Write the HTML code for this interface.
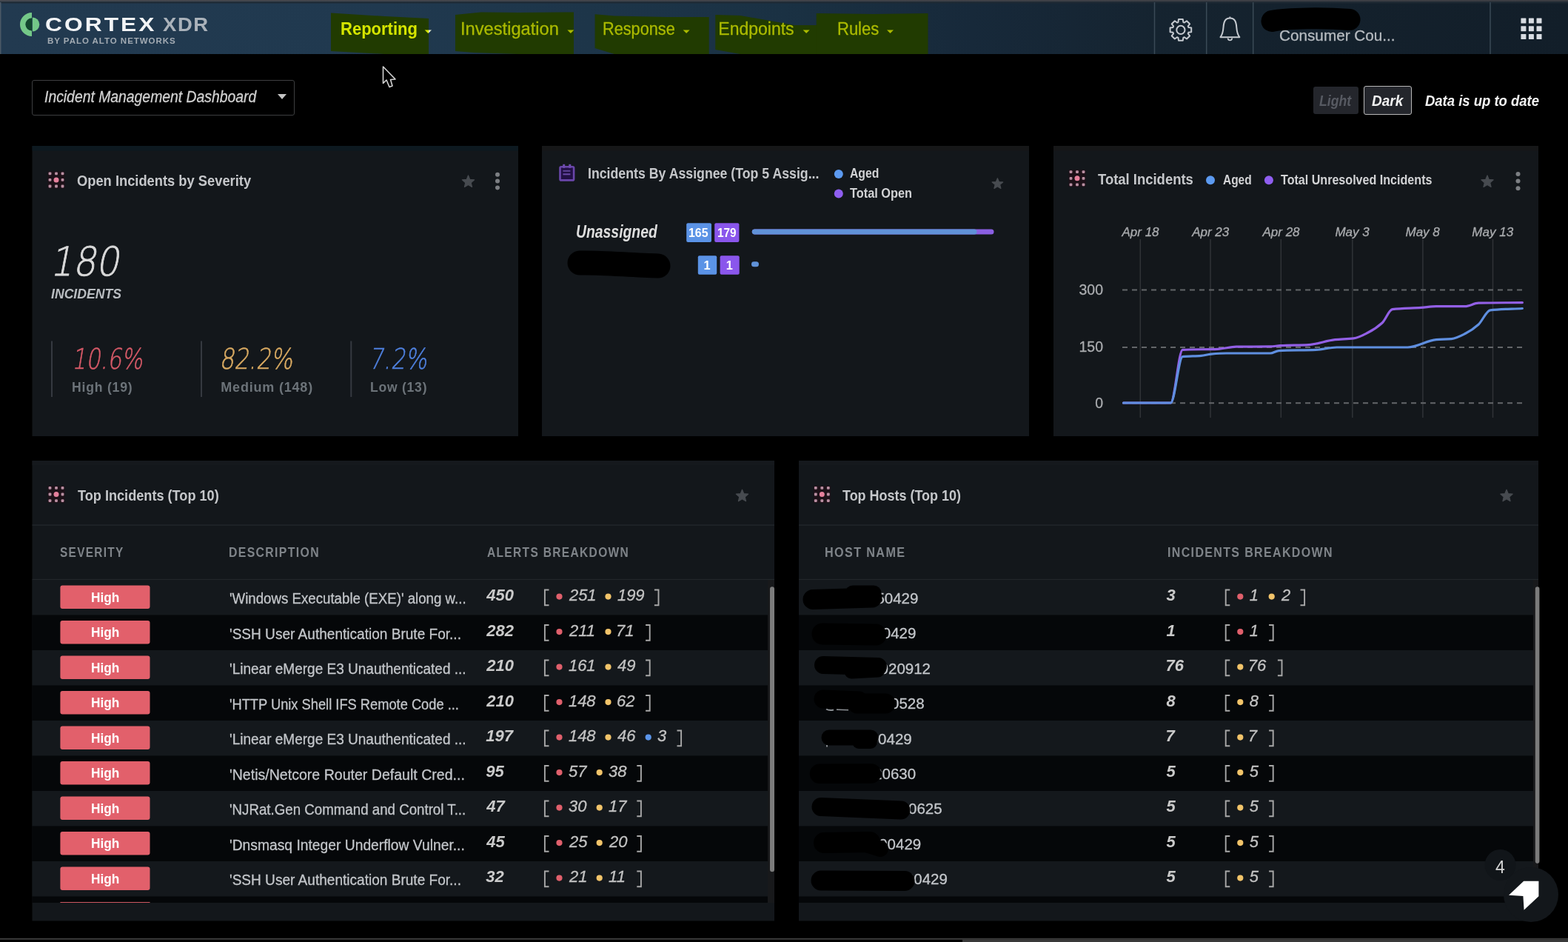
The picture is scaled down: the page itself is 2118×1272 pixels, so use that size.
<!DOCTYPE html><html><head><meta charset="utf-8"><title>Cortex XDR - Incident Management Dashboard</title><style>
html,body{margin:0;padding:0;background:#000;width:2118px;height:1272px;overflow:hidden}
.t{position:absolute;white-space:nowrap;line-height:1}
svg{position:absolute;left:0;top:0}
</style></head><body>
<svg width="2118" height="1272" viewBox="0 0 2118 1272"><rect x="0" y="0" width="2118" height="1272" fill="#000" rx="0" /><defs><linearGradient id="hg" x1="0" x2="1" y1="0" y2="0"><stop offset="0" stop-color="#223a50"/><stop offset="0.25" stop-color="#20394f"/><stop offset="0.5" stop-color="#1a3143"/><stop offset="0.62" stop-color="#17293a"/><stop offset="0.75" stop-color="#15232f"/><stop offset="1" stop-color="#121e29"/></linearGradient><linearGradient id="tg" x1="0" x2="1"><stop offset="0" stop-color="#45484f"/><stop offset="1" stop-color="#3a3c42"/></linearGradient></defs><rect x="0" y="0" width="2118" height="73" fill="url(#hg)" rx="0" /><rect x="0" y="0" width="2118" height="2.4" fill="url(#tg)" rx="0" /><rect x="0" y="2.4" width="2118" height="2" fill="#1f2a34" rx="0" /><rect x="0" y="3" width="1.5" height="70" fill="#4a5866" rx="0" /><rect x="1558.75" y="3" width="1.5" height="70" fill="#3a4a56" rx="0" /><rect x="1628.95" y="3" width="1.5" height="70" fill="#3a4a56" rx="0" /><rect x="1691.95" y="3" width="1.5" height="70" fill="#3a4a56" rx="0" /><rect x="2012.25" y="3" width="1.5" height="70" fill="#3a4a56" rx="0" /><polygon fill="#213b01" points="447,17.5 520,22 579,25 579,73 520,73 447,69"/><polygon fill="#213b01" points="615,20 650,16.5 700,17 775,16.5 775,73 700,73 640,71 615,69"/><polygon fill="#213b01" points="803.6,19.3 830,21.5 900,23 957.7,23 957.7,73 830,73 803.6,65"/><polygon fill="#213b01" points="966.3,20 1000,21 1040,28 1073,34 1103.9,34 1103.9,73 1000,73 966.3,67"/><polygon fill="#213b01" points="1102.7,18.1 1180,19 1253.5,18 1253.5,73 1102.7,73"/><polygon fill="#e8ecd8" points="579,40.5 583,40.5 579,44.5"/><polygon fill="#d6e600" points="573.7,40.5 579,40.5 579,44.5 578.2,45"/><polygon fill="#abba00" points="766.4,40.5 775.4,40.5 770.9,45"/><polygon fill="#abba00" points="922.6,40.5 931.6,40.5 927.1,45"/><polygon fill="#abba00" points="1084.6,40.5 1093.6,40.5 1089.1,45"/><polygon fill="#abba00" points="1198,40.5 1207,40.5 1202.5,45"/><path fill="#74c888" d="M43,17 A16,16 0 0 0 43,49 L43,41.5 A8.5,8.5 0 0 1 43,24.5 Z"/><path fill="#74c888" d="M43.8,23.5 A9.5,9.5 0 0 1 43.8,42.5 Z"/><path fill="#0f4a24" d="M43,24.5 A8.5,8.5 0 0 0 43,41.5 Z" opacity="0.8"/><path fill="none" stroke="#c5cad0" stroke-width="2" stroke-linejoin="round" d="M1591.44,29.96 L1592,26.09 L1597.8,26.09 L1598.36,29.96 L1599.84,30.57 L1602.97,28.23 L1607.07,32.33 L1604.73,35.46 L1605.34,36.94 L1609.21,37.5 L1609.21,43.3 L1605.34,43.86 L1604.73,45.34 L1607.07,48.47 L1602.97,52.57 L1599.84,50.23 L1598.36,50.84 L1597.8,54.71 L1592,54.71 L1591.44,50.84 L1589.96,50.23 L1586.83,52.57 L1582.73,48.47 L1585.07,45.34 L1584.46,43.86 L1580.59,43.3 L1580.59,37.5 L1584.46,36.94 L1585.07,35.46 L1582.73,32.33 L1586.83,28.23 L1589.96,30.57Z"/><circle cx="1594.9" cy="40.4" r="5.6" fill="none" stroke="#c5cad0" stroke-width="2"/><path fill="none" stroke="#c5cad0" stroke-width="2" stroke-linejoin="round" d="M1661.4,24.5 C1654.5,24.5 1653,30 1652.5,37 C1652,44 1651,47 1648.5,50.2 L1674.3,50.2 C1671.8,47 1670.8,44 1670.3,37 C1669.8,30 1668.3,24.5 1661.4,24.5 Z"/><path fill="none" stroke="#c5cad0" stroke-width="1.8" d="M1661.4,22.5 L1661.4,24.5 M1658.6,51.5 A2.8,2.8 0 0 0 1664.2,51.5"/><rect x="2054.4" y="24.5" width="7" height="7" fill="#d8dce2" rx="0.5" /><rect x="2054.4" y="35.2" width="7" height="7" fill="#d8dce2" rx="0.5" /><rect x="2054.4" y="45.9" width="7" height="7" fill="#d8dce2" rx="0.5" /><rect x="2064.9" y="24.5" width="7" height="7" fill="#d8dce2" rx="0.5" /><rect x="2064.9" y="35.2" width="7" height="7" fill="#d8dce2" rx="0.5" /><rect x="2064.9" y="45.9" width="7" height="7" fill="#d8dce2" rx="0.5" /><rect x="2075.5" y="24.5" width="7" height="7" fill="#d8dce2" rx="0.5" /><rect x="2075.5" y="35.2" width="7" height="7" fill="#d8dce2" rx="0.5" /><rect x="2075.5" y="45.9" width="7" height="7" fill="#d8dce2" rx="0.5" /><polygon fill="#c4c4c4" points="375,127 387,127 381,134"/><rect x="43.5" y="197" width="656.5" height="392" fill="#13171b" rx="0" /><rect x="43.5" y="197" width="656.5" height="6.5" fill="#0d1920" rx="0" /><rect x="732" y="197" width="658" height="392" fill="#13171b" rx="0" /><rect x="732" y="197" width="658" height="6.5" fill="#161718" rx="0" /><rect x="1423" y="197" width="655" height="392" fill="#13171b" rx="0" /><rect x="1423" y="197" width="655" height="6.5" fill="#161718" rx="0" /><rect x="43.5" y="622" width="1002.5" height="621.5" fill="#13171b" rx="0" /><rect x="43.5" y="622" width="1002.5" height="6.5" fill="#15191d" rx="0" /><rect x="1079" y="622" width="999" height="621.5" fill="#13171b" rx="0" /><rect x="1079" y="622" width="999" height="6.5" fill="#15191d" rx="0" /><rect x="64.5" y="231.4" width="23" height="23" fill="#2a0c16" opacity="0.45"/><rect x="65.6" y="232.4" width="3.8" height="3.8" rx="1" fill="#b98fa2"/><rect x="65.6" y="241" width="3.8" height="3.8" rx="1" fill="#b98fa2"/><rect x="65.6" y="249.6" width="3.8" height="3.8" rx="1" fill="#b98fa2"/><rect x="74.1" y="232.4" width="3.8" height="3.8" rx="1" fill="#b98fa2"/><rect x="74.1" y="249.6" width="3.8" height="3.8" rx="1" fill="#b98fa2"/><rect x="82.6" y="232.4" width="3.8" height="3.8" rx="1" fill="#b98fa2"/><rect x="82.6" y="241" width="3.8" height="3.8" rx="1" fill="#b98fa2"/><rect x="82.6" y="249.6" width="3.8" height="3.8" rx="1" fill="#b98fa2"/><circle cx="76" cy="242.9" r="3.5" fill="#e6809c"/><polygon fill="#474b50" stroke="#474b50" stroke-width="1.2" stroke-linejoin="round" points="632.5,236.9 634.77,242.37 640.68,242.84 636.18,246.7 637.55,252.46 632.5,249.37 627.45,252.46 628.82,246.7 624.32,242.84 630.23,242.37"/><circle cx="672" cy="235.7" r="3" fill="#7c7f83"/><circle cx="672" cy="244.5" r="3" fill="#7c7f83"/><circle cx="672" cy="253.4" r="3" fill="#7c7f83"/><rect x="69" y="460.5" width="2" height="75.5" fill="#353940" rx="0" /><rect x="271" y="460.5" width="2" height="75.5" fill="#353940" rx="0" /><rect x="473.3" y="460.5" width="2" height="75.5" fill="#353940" rx="0" /><rect x="756.5" y="225.2" width="18.6" height="18.2" rx="1.5" fill="#221044" stroke="#6a46aa" stroke-width="2.6"/><rect x="760.2" y="221.8" width="3" height="5" fill="#6e4cae"/><rect x="768.3" y="221.8" width="3" height="5" fill="#6e4cae"/><rect x="760.4" y="229.8" width="10" height="2" fill="#5e4496"/><rect x="760.4" y="234.3" width="10" height="2" fill="#6a4aa8"/><circle cx="1132.8" cy="234.9" r="6" fill="#5c9af0"/><circle cx="1132.8" cy="261.4" r="6" fill="#8f5ef0"/><polygon fill="#474b50" stroke="#474b50" stroke-width="1.2" stroke-linejoin="round" points="1347.4,240.7 1349.41,245.53 1354.63,245.95 1350.65,249.36 1351.87,254.45 1347.4,251.72 1342.93,254.45 1344.15,249.36 1340.17,245.95 1345.39,245.53"/><rect x="927.2" y="301.3" width="33.8" height="25.8" fill="#5b93e6" rx="2" /><rect x="965.2" y="301.3" width="33.2" height="25.8" fill="#8a56ec" rx="2" /><path d="M1019.2,313 L1339,313" stroke="#8a5fe2" stroke-width="7" stroke-linecap="round"/><path d="M1019.2,313 L1316,313" stroke="#6092d8" stroke-width="7" stroke-linecap="round"/><rect x="942.8" y="345.2" width="25.4" height="25.5" fill="#5b93e6" rx="2" /><rect x="972.6" y="345.2" width="26.1" height="25.5" fill="#8a56ec" rx="2" /><path d="M1018.5,356.7 L1021.5,356.7" stroke="#6092d8" stroke-width="7" stroke-linecap="round"/><rect x="1443.5" y="229.3" width="23" height="23" fill="#2a0c16" opacity="0.45"/><rect x="1444.6" y="230.3" width="3.8" height="3.8" rx="1" fill="#b98fa2"/><rect x="1444.6" y="238.9" width="3.8" height="3.8" rx="1" fill="#b98fa2"/><rect x="1444.6" y="247.5" width="3.8" height="3.8" rx="1" fill="#b98fa2"/><rect x="1453.1" y="230.3" width="3.8" height="3.8" rx="1" fill="#b98fa2"/><rect x="1453.1" y="247.5" width="3.8" height="3.8" rx="1" fill="#b98fa2"/><rect x="1461.6" y="230.3" width="3.8" height="3.8" rx="1" fill="#b98fa2"/><rect x="1461.6" y="238.9" width="3.8" height="3.8" rx="1" fill="#b98fa2"/><rect x="1461.6" y="247.5" width="3.8" height="3.8" rx="1" fill="#b98fa2"/><circle cx="1455" cy="240.8" r="3.5" fill="#e6809c"/><circle cx="1635" cy="243.3" r="6" fill="#5c9af0"/><circle cx="1713.9" cy="243.3" r="6" fill="#8f5ef0"/><polygon fill="#474b50" stroke="#474b50" stroke-width="1.2" stroke-linejoin="round" points="2009,236.9 2011.27,242.37 2017.18,242.84 2012.68,246.7 2014.05,252.46 2009,249.37 2003.95,252.46 2005.32,246.7 2000.82,242.84 2006.73,242.37"/><circle cx="2050.5" cy="235" r="3" fill="#7c7f83"/><circle cx="2050.5" cy="244.6" r="3" fill="#7c7f83"/><circle cx="2050.5" cy="254.2" r="3" fill="#7c7f83"/><rect x="1539.55" y="323" width="1.5" height="241" fill="#303337" rx="0" /><rect x="1634.25" y="323" width="1.5" height="241" fill="#303337" rx="0" /><rect x="1729.55" y="323" width="1.5" height="241" fill="#303337" rx="0" /><rect x="1826.05" y="323" width="1.5" height="241" fill="#303337" rx="0" /><rect x="1921.15" y="323" width="1.5" height="241" fill="#303337" rx="0" /><rect x="2015.75" y="323" width="1.5" height="241" fill="#303337" rx="0" /><path d="M1516,391.5 L2061,391.5" stroke="#636669" stroke-width="2" stroke-dasharray="7 6"/><path d="M1516,469 L2061,469" stroke="#636669" stroke-width="2" stroke-dasharray="7 6"/><path d="M1516,544.3 L2061,544.3" stroke="#636669" stroke-width="2" stroke-dasharray="7 6"/><path fill="none" stroke="#9360e6" stroke-width="3.2" stroke-linejoin="round" stroke-linecap="round" d="M1517.5,544 C1538.8,544 1560.1,544 1581.4,544 C1586.73,544 1592.07,472.69 1597.4,472.4 C1613.27,471.53 1629.13,471.97 1645,471.3 C1653.33,470.95 1661.67,468.31 1670,468.2 C1685.33,467.99 1700.67,468.12 1716,467.9 C1720.53,467.83 1725.07,466.91 1729.6,466.7 C1742.4,466.1 1755.2,466.25 1768,465.6 C1779.77,465.01 1791.53,459.9 1803.3,458.7 C1811.67,457.84 1820.03,457.95 1828.4,456.9 C1834.93,456.08 1841.47,452.32 1848,449 C1854.33,445.78 1860.67,441.82 1867,436 C1871.6,431.78 1876.2,418.31 1880.8,417.7 C1893.73,415.98 1906.67,416.34 1919.6,415.4 C1926.4,414.91 1933.2,413.6 1940,413.6 C1952.97,413.6 1965.93,413.6 1978.9,413.6 C1984.93,413.6 1990.97,409.34 1997,409.2 C2016.8,408.74 2036.6,408.8 2056.4,408.6"/><path fill="none" stroke="#5f8fe0" stroke-width="3.2" stroke-linejoin="round" stroke-linecap="round" d="M1517.5,544 C1538.8,544 1560.1,544 1581.4,544 C1586.73,544 1592.07,482.14 1597.4,481.6 C1605.73,480.75 1614.07,481.06 1622.4,480.4 C1626.93,480.04 1631.47,478.48 1636,478.1 C1642.87,477.52 1649.73,477 1656.6,477 C1676.4,477 1696.2,477 1716,477 C1719.77,477 1723.53,473.8 1727.3,473.6 C1744.03,472.7 1760.77,473.11 1777.5,472.4 C1786.87,472 1796.23,469 1805.6,469 C1837.53,469 1869.47,469 1901.4,469 C1914.27,469 1927.13,459.77 1940,458.7 C1946.87,458.13 1953.73,458.25 1960.6,457.6 C1967.07,456.99 1973.53,453.26 1980,450 C1985.67,447.14 1991.33,443.22 1997,438.2 C2002.33,433.48 2007.67,419.43 2013,418.8 C2027.47,417.09 2041.93,417.27 2056.4,416.5"/><rect x="64.5" y="656" width="23" height="23" fill="#2a0c16" opacity="0.45"/><rect x="65.6" y="657" width="3.8" height="3.8" rx="1" fill="#b98fa2"/><rect x="65.6" y="665.6" width="3.8" height="3.8" rx="1" fill="#b98fa2"/><rect x="65.6" y="674.2" width="3.8" height="3.8" rx="1" fill="#b98fa2"/><rect x="74.1" y="657" width="3.8" height="3.8" rx="1" fill="#b98fa2"/><rect x="74.1" y="674.2" width="3.8" height="3.8" rx="1" fill="#b98fa2"/><rect x="82.6" y="657" width="3.8" height="3.8" rx="1" fill="#b98fa2"/><rect x="82.6" y="665.6" width="3.8" height="3.8" rx="1" fill="#b98fa2"/><rect x="82.6" y="674.2" width="3.8" height="3.8" rx="1" fill="#b98fa2"/><circle cx="76" cy="667.5" r="3.5" fill="#e6809c"/><polygon fill="#474b50" stroke="#474b50" stroke-width="1.2" stroke-linejoin="round" points="1002.5,661.2 1004.77,666.67 1010.68,667.14 1006.18,671 1007.55,676.76 1002.5,673.67 997.45,676.76 998.82,671 994.32,667.14 1000.23,666.67"/><rect x="43.5" y="708.3" width="1002.5" height="1.5" fill="#22272b" rx="0" /><rect x="43.5" y="781.8" width="1002.5" height="1.5" fill="#22272b" rx="0" /><rect x="1098.8" y="656" width="23" height="23" fill="#2a0c16" opacity="0.45"/><rect x="1099.9" y="657" width="3.8" height="3.8" rx="1" fill="#b98fa2"/><rect x="1099.9" y="665.6" width="3.8" height="3.8" rx="1" fill="#b98fa2"/><rect x="1099.9" y="674.2" width="3.8" height="3.8" rx="1" fill="#b98fa2"/><rect x="1108.4" y="657" width="3.8" height="3.8" rx="1" fill="#b98fa2"/><rect x="1108.4" y="674.2" width="3.8" height="3.8" rx="1" fill="#b98fa2"/><rect x="1116.9" y="657" width="3.8" height="3.8" rx="1" fill="#b98fa2"/><rect x="1116.9" y="665.6" width="3.8" height="3.8" rx="1" fill="#b98fa2"/><rect x="1116.9" y="674.2" width="3.8" height="3.8" rx="1" fill="#b98fa2"/><circle cx="1110.3" cy="667.5" r="3.5" fill="#e6809c"/><polygon fill="#474b50" stroke="#474b50" stroke-width="1.2" stroke-linejoin="round" points="2035,661.2 2037.27,666.67 2043.18,667.14 2038.68,671 2040.05,676.76 2035,673.67 2029.95,676.76 2031.32,671 2026.82,667.14 2032.73,666.67"/><rect x="1079" y="708.3" width="999" height="1.5" fill="#22272b" rx="0" /><rect x="1079" y="781.8" width="999" height="1.5" fill="#22272b" rx="0" /><rect x="43.5" y="783.0" width="993.5" height="47.5" fill="#14181c" rx="0" /><rect x="1079" y="783.0" width="992" height="47.5" fill="#14181c" rx="0" /><rect x="43.5" y="830.5" width="993.5" height="47.5" fill="#050709" rx="0" /><rect x="1079" y="830.5" width="992" height="47.5" fill="#050709" rx="0" /><rect x="43.5" y="878.0" width="993.5" height="47.5" fill="#14181c" rx="0" /><rect x="1079" y="878.0" width="992" height="47.5" fill="#14181c" rx="0" /><rect x="43.5" y="925.5" width="993.5" height="47.5" fill="#050709" rx="0" /><rect x="1079" y="925.5" width="992" height="47.5" fill="#050709" rx="0" /><rect x="43.5" y="973.0" width="993.5" height="47.5" fill="#14181c" rx="0" /><rect x="1079" y="973.0" width="992" height="47.5" fill="#14181c" rx="0" /><rect x="43.5" y="1020.5" width="993.5" height="47.5" fill="#050709" rx="0" /><rect x="1079" y="1020.5" width="992" height="47.5" fill="#050709" rx="0" /><rect x="43.5" y="1068.0" width="993.5" height="47.5" fill="#14181c" rx="0" /><rect x="1079" y="1068.0" width="992" height="47.5" fill="#14181c" rx="0" /><rect x="43.5" y="1115.5" width="993.5" height="47.5" fill="#050709" rx="0" /><rect x="1079" y="1115.5" width="992" height="47.5" fill="#050709" rx="0" /><rect x="43.5" y="1163.0" width="993.5" height="47.5" fill="#14181c" rx="0" /><rect x="1079" y="1163.0" width="992" height="47.5" fill="#14181c" rx="0" /><rect x="43.5" y="1210.5" width="993.5" height="8.5" fill="#050709" rx="0" /><rect x="1079" y="1210.5" width="992" height="8.5" fill="#050709" rx="0" /><rect x="1037" y="783" width="9" height="436" fill="#18191b" rx="0" /><rect x="2071" y="783" width="7" height="436" fill="#18191b" rx="0" /><rect x="1040" y="792.2" width="6" height="385" fill="#7b7b7b" rx="3" /><rect x="2073.8" y="792.2" width="5.6" height="373.5" fill="#7b7b7b" rx="2.8" /><rect x="81.4" y="790.6" width="121.1" height="31.5" fill="#e2606b" rx="3" /><rect x="81.4" y="838.1" width="121.1" height="31.5" fill="#e2606b" rx="3" /><rect x="81.4" y="885.6" width="121.1" height="31.5" fill="#e2606b" rx="3" /><rect x="81.4" y="933.1" width="121.1" height="31.5" fill="#e2606b" rx="3" /><rect x="81.4" y="980.6" width="121.1" height="31.5" fill="#e2606b" rx="3" /><rect x="81.4" y="1028.1" width="121.1" height="31.5" fill="#e2606b" rx="3" /><rect x="81.4" y="1075.6" width="121.1" height="31.5" fill="#e2606b" rx="3" /><rect x="81.4" y="1123.1" width="121.1" height="31.5" fill="#e2606b" rx="3" /><rect x="81.4" y="1170.6" width="121.1" height="31.5" fill="#e2606b" rx="3" /><rect x="81.4" y="1218.1" width="121.1" height="0.900000000000091" fill="#e2606b" rx="0" /><path d="M1116,957.5 Q1120,960 1126,958.5 M1130,958 L1146,958.5" stroke="#8a8e92" stroke-width="2" fill="none"/><rect x="1116" y="1003.5" width="2" height="5" fill="#8a8e92" rx="0" /><path d="M741.5,796.5 L735.9,796.5 L735.9,817.3 L741.5,817.3" fill="none" stroke="#a8a8a8" stroke-width="1.9"/><circle cx="755.5" cy="805.6" r="4.1" fill="#e0606c"/><circle cx="821.5" cy="805.6" r="4.1" fill="#f2c46a"/><path d="M883.9,796.5 L889.5,796.5 L889.5,817.3 L883.9,817.3" fill="none" stroke="#a8a8a8" stroke-width="1.9"/><path d="M741.5,844 L735.9,844 L735.9,864.8 L741.5,864.8" fill="none" stroke="#a8a8a8" stroke-width="1.9"/><circle cx="755.5" cy="853.1" r="4.1" fill="#e0606c"/><circle cx="821.5" cy="853.1" r="4.1" fill="#f2c46a"/><path d="M872.1,844 L877.7,844 L877.7,864.8 L872.1,864.8" fill="none" stroke="#a8a8a8" stroke-width="1.9"/><path d="M741.5,891.5 L735.9,891.5 L735.9,912.3 L741.5,912.3" fill="none" stroke="#a8a8a8" stroke-width="1.9"/><circle cx="755.5" cy="900.6" r="4.1" fill="#e0606c"/><circle cx="821.5" cy="900.6" r="4.1" fill="#f2c46a"/><path d="M872.1,891.5 L877.7,891.5 L877.7,912.3 L872.1,912.3" fill="none" stroke="#a8a8a8" stroke-width="1.9"/><path d="M741.5,939 L735.9,939 L735.9,959.8 L741.5,959.8" fill="none" stroke="#a8a8a8" stroke-width="1.9"/><circle cx="755.5" cy="948.1" r="4.1" fill="#e0606c"/><circle cx="821.5" cy="948.1" r="4.1" fill="#f2c46a"/><path d="M872.1,939 L877.7,939 L877.7,959.8 L872.1,959.8" fill="none" stroke="#a8a8a8" stroke-width="1.9"/><path d="M741.5,986.5 L735.9,986.5 L735.9,1007.3 L741.5,1007.3" fill="none" stroke="#a8a8a8" stroke-width="1.9"/><circle cx="755.5" cy="995.6" r="4.1" fill="#e0606c"/><circle cx="821.5" cy="995.6" r="4.1" fill="#f2c46a"/><circle cx="875.7" cy="995.6" r="4.1" fill="#5b95ea"/><path d="M914.5,986.5 L920.1,986.5 L920.1,1007.3 L914.5,1007.3" fill="none" stroke="#a8a8a8" stroke-width="1.9"/><path d="M741.5,1034 L735.9,1034 L735.9,1054.8 L741.5,1054.8" fill="none" stroke="#a8a8a8" stroke-width="1.9"/><circle cx="755.5" cy="1043.1" r="4.1" fill="#e0606c"/><circle cx="809.7" cy="1043.1" r="4.1" fill="#f2c46a"/><path d="M860.3,1034 L865.9,1034 L865.9,1054.8 L860.3,1054.8" fill="none" stroke="#a8a8a8" stroke-width="1.9"/><path d="M741.5,1081.5 L735.9,1081.5 L735.9,1102.3 L741.5,1102.3" fill="none" stroke="#a8a8a8" stroke-width="1.9"/><circle cx="755.5" cy="1090.6" r="4.1" fill="#e0606c"/><circle cx="809.7" cy="1090.6" r="4.1" fill="#f2c46a"/><path d="M860.3,1081.5 L865.9,1081.5 L865.9,1102.3 L860.3,1102.3" fill="none" stroke="#a8a8a8" stroke-width="1.9"/><path d="M741.5,1129 L735.9,1129 L735.9,1149.8 L741.5,1149.8" fill="none" stroke="#a8a8a8" stroke-width="1.9"/><circle cx="755.5" cy="1138.1" r="4.1" fill="#e0606c"/><circle cx="809.7" cy="1138.1" r="4.1" fill="#f2c46a"/><path d="M860.3,1129 L865.9,1129 L865.9,1149.8 L860.3,1149.8" fill="none" stroke="#a8a8a8" stroke-width="1.9"/><path d="M741.5,1176.5 L735.9,1176.5 L735.9,1197.3 L741.5,1197.3" fill="none" stroke="#a8a8a8" stroke-width="1.9"/><circle cx="755.5" cy="1185.6" r="4.1" fill="#e0606c"/><circle cx="809.7" cy="1185.6" r="4.1" fill="#f2c46a"/><path d="M860.3,1176.5 L865.9,1176.5 L865.9,1197.3 L860.3,1197.3" fill="none" stroke="#a8a8a8" stroke-width="1.9"/><path d="M1661.3,796.5 L1655.7,796.5 L1655.7,817.3 L1661.3,817.3" fill="none" stroke="#a8a8a8" stroke-width="1.9"/><circle cx="1675.3" cy="805.6" r="4.1" fill="#e0606c"/><circle cx="1717.7" cy="805.6" r="4.1" fill="#f2c46a"/><path d="M1756.5,796.5 L1762.1,796.5 L1762.1,817.3 L1756.5,817.3" fill="none" stroke="#a8a8a8" stroke-width="1.9"/><path d="M1661.3,844 L1655.7,844 L1655.7,864.8 L1661.3,864.8" fill="none" stroke="#a8a8a8" stroke-width="1.9"/><circle cx="1675.3" cy="853.1" r="4.1" fill="#e0606c"/><path d="M1714.1,844 L1719.7,844 L1719.7,864.8 L1714.1,864.8" fill="none" stroke="#a8a8a8" stroke-width="1.9"/><path d="M1661.3,891.5 L1655.7,891.5 L1655.7,912.3 L1661.3,912.3" fill="none" stroke="#a8a8a8" stroke-width="1.9"/><circle cx="1675.3" cy="900.6" r="4.1" fill="#f2c46a"/><path d="M1725.9,891.5 L1731.5,891.5 L1731.5,912.3 L1725.9,912.3" fill="none" stroke="#a8a8a8" stroke-width="1.9"/><path d="M1661.3,939 L1655.7,939 L1655.7,959.8 L1661.3,959.8" fill="none" stroke="#a8a8a8" stroke-width="1.9"/><circle cx="1675.3" cy="948.1" r="4.1" fill="#f2c46a"/><path d="M1714.1,939 L1719.7,939 L1719.7,959.8 L1714.1,959.8" fill="none" stroke="#a8a8a8" stroke-width="1.9"/><path d="M1661.3,986.5 L1655.7,986.5 L1655.7,1007.3 L1661.3,1007.3" fill="none" stroke="#a8a8a8" stroke-width="1.9"/><circle cx="1675.3" cy="995.6" r="4.1" fill="#f2c46a"/><path d="M1714.1,986.5 L1719.7,986.5 L1719.7,1007.3 L1714.1,1007.3" fill="none" stroke="#a8a8a8" stroke-width="1.9"/><path d="M1661.3,1034 L1655.7,1034 L1655.7,1054.8 L1661.3,1054.8" fill="none" stroke="#a8a8a8" stroke-width="1.9"/><circle cx="1675.3" cy="1043.1" r="4.1" fill="#f2c46a"/><path d="M1714.1,1034 L1719.7,1034 L1719.7,1054.8 L1714.1,1054.8" fill="none" stroke="#a8a8a8" stroke-width="1.9"/><path d="M1661.3,1081.5 L1655.7,1081.5 L1655.7,1102.3 L1661.3,1102.3" fill="none" stroke="#a8a8a8" stroke-width="1.9"/><circle cx="1675.3" cy="1090.6" r="4.1" fill="#f2c46a"/><path d="M1714.1,1081.5 L1719.7,1081.5 L1719.7,1102.3 L1714.1,1102.3" fill="none" stroke="#a8a8a8" stroke-width="1.9"/><path d="M1661.3,1129 L1655.7,1129 L1655.7,1149.8 L1661.3,1149.8" fill="none" stroke="#a8a8a8" stroke-width="1.9"/><circle cx="1675.3" cy="1138.1" r="4.1" fill="#f2c46a"/><path d="M1714.1,1129 L1719.7,1129 L1719.7,1149.8 L1714.1,1149.8" fill="none" stroke="#a8a8a8" stroke-width="1.9"/><path d="M1661.3,1176.5 L1655.7,1176.5 L1655.7,1197.3 L1661.3,1197.3" fill="none" stroke="#a8a8a8" stroke-width="1.9"/><circle cx="1675.3" cy="1185.6" r="4.1" fill="#f2c46a"/><path d="M1714.1,1176.5 L1719.7,1176.5 L1719.7,1197.3 L1714.1,1197.3" fill="none" stroke="#a8a8a8" stroke-width="1.9"/></svg>
<div style="position:absolute;left:43.3px;top:108px;width:354.3px;height:48px;border:1.6px solid #3d3e40;border-radius:3px;box-sizing:border-box"></div><div style="position:absolute;left:1773.5px;top:116.5px;width:61px;height:37.5px;background:#24262c;border-radius:3px"></div><div style="position:absolute;left:1841.5px;top:115.5px;width:65.5px;height:39.5px;background:#24262c;border:1.6px solid #b8b8b8;border-radius:3px;box-sizing:border-box"></div>
<div class="t" style="left:460.04px;top:27.55px;font:700 23px/1 'Liberation Sans', sans-serif;color:#d6e600;transform:scaleX(0.9573);transform-origin:0 19.55px;">Reporting</div>
<div class="t" style="left:621.54px;top:27.55px;font:400 23px/1 'Liberation Sans', sans-serif;color:#abba00;-webkit-text-stroke:0.3px #abba00;transform:scaleX(1.0289);transform-origin:0 19.55px;">Investigation</div>
<div class="t" style="left:813.56px;top:27.55px;font:400 23px/1 'Liberation Sans', sans-serif;color:#abba00;-webkit-text-stroke:0.3px #abba00;transform:scaleX(0.9442);transform-origin:0 19.55px;">Response</div>
<div class="t" style="left:970.30px;top:27.55px;font:400 23px/1 'Liberation Sans', sans-serif;color:#abba00;-webkit-text-stroke:0.3px #abba00;">Endpoints</div>
<div class="t" style="left:1131.24px;top:27.55px;font:400 23px/1 'Liberation Sans', sans-serif;color:#abba00;-webkit-text-stroke:0.3px #abba00;transform:scaleX(0.9563);transform-origin:0 19.55px;">Rules</div>
<div class="t" style="left:60.78px;top:20.30px;font:700 26px/1 'Liberation Sans', sans-serif;color:#f2f4f6;letter-spacing:2.5px;transform:scaleX(1.2199);transform-origin:0 22.10px;">CORTEX</div>
<div class="t" style="left:219.60px;top:20.30px;font:700 26px/1 'Liberation Sans', sans-serif;color:#aab2ba;letter-spacing:1.5px;transform:scaleX(1.0565);transform-origin:0 22.10px;">XDR</div>
<div class="t" style="left:63.60px;top:49.82px;font:700 10.8px/1 'Liberation Sans', sans-serif;color:#a3abb3;letter-spacing:0.9px;transform:scaleX(1.0668);transform-origin:0 9.18px;">BY PALO ALTO NETWORKS</div>
<div class="t" style="left:1728.01px;top:36.75px;font:400 21px/1 'Liberation Sans', sans-serif;color:#b6bbc0;-webkit-text-stroke:0.3px #b6bbc0;transform:scaleX(0.9866);transform-origin:0 17.85px;">Consumer Cou...</div>
<div class="t" style="left:59.50px;top:120.53px;font:italic 400 21.5px/1 'Liberation Sans', sans-serif;color:#d0d0d0;-webkit-text-stroke:0.3px #d0d0d0;transform:scaleX(0.9004);transform-origin:0 18.27px;">Incident Management Dashboard</div>
<div class="t" style="left:1782.00px;top:124.75px;font:italic 700 21px/1 'Liberation Sans', sans-serif;color:#575a62;transform:scaleX(0.8410);transform-origin:0 17.85px;">Light</div>
<div class="t" style="left:1853.00px;top:124.75px;font:italic 700 21px/1 'Liberation Sans', sans-serif;color:#f2f2f2;transform:scaleX(0.9038);transform-origin:0 17.85px;">Dark</div>
<div class="t" style="left:1925.00px;top:125.05px;font:italic 700 21px/1 'Liberation Sans', sans-serif;color:#f2f2f2;transform:scaleX(0.8800);transform-origin:0 17.85px;">Data is up to date</div>
<div class="t" style="left:104.20px;top:234.07px;font:700 20.5px/1 'Liberation Sans', sans-serif;color:#c5c7ca;transform:scaleX(0.8932);transform-origin:0 17.43px;">Open Incidents by Severity</div>
<div class="t" style="left:67.38px;top:327.00px;font:200 54px/1 'DejaVu Sans', sans-serif;color:#dadada;-webkit-text-stroke:0.8px #dadada;transform:scaleX(0.9038) skewX(-12deg);transform-origin:0 45.90px;">180</div>
<div class="t" style="left:69.20px;top:386.95px;font:italic 700 19px/1 'Liberation Sans', sans-serif;color:#b9bdc1;transform:scaleX(0.9278);transform-origin:0 16.15px;">INCIDENTS</div>
<div class="t" style="left:96.88px;top:465.57px;font:200 38.5px/1 'DejaVu Sans', sans-serif;color:#d65a68;-webkit-text-stroke:0.55px #d65a68;transform:scaleX(0.7812) skewX(-12deg);transform-origin:0 32.73px;">10.6%</div>
<div class="t" style="left:295.77px;top:465.57px;font:200 38.5px/1 'DejaVu Sans', sans-serif;color:#d9aa62;-webkit-text-stroke:0.55px #d9aa62;transform:scaleX(0.8105) skewX(-12deg);transform-origin:0 32.73px;">82.2%</div>
<div class="t" style="left:497.59px;top:465.57px;font:200 38.5px/1 'DejaVu Sans', sans-serif;color:#4f80de;-webkit-text-stroke:0.55px #4f80de;transform:scaleX(0.8034) skewX(-12deg);transform-origin:0 32.73px;">7.2%</div>
<div class="t" style="left:96.72px;top:514.10px;font:700 18px/1 'Liberation Sans', sans-serif;color:#6c7379;letter-spacing:0.8px;transform:scaleX(0.9781);transform-origin:0 15.30px;">High (19)</div>
<div class="t" style="left:298.30px;top:514.10px;font:700 18px/1 'Liberation Sans', sans-serif;color:#6c7379;letter-spacing:0.8px;">Medium (148)</div>
<div class="t" style="left:499.83px;top:514.10px;font:700 18px/1 'Liberation Sans', sans-serif;color:#6c7379;letter-spacing:0.8px;transform:scaleX(0.9728);transform-origin:0 15.30px;">Low (13)</div>
<div class="t" style="left:793.71px;top:223.70px;font:700 20px/1 'Liberation Sans', sans-serif;color:#c5c7ca;transform:scaleX(0.8860);transform-origin:0 17.00px;">Incidents By Assignee (Top 5 Assig...</div>
<div class="t" style="left:1147.50px;top:225.18px;font:700 18.5px/1 'Liberation Sans', sans-serif;color:#d2d3d5;transform:scaleX(0.8509);transform-origin:0 15.72px;">Aged</div>
<div class="t" style="left:1147.50px;top:251.67px;font:700 18.5px/1 'Liberation Sans', sans-serif;color:#d2d3d5;transform:scaleX(0.8816);transform-origin:0 15.72px;">Total Open</div>
<div class="t" style="left:777.61px;top:301.07px;font:italic 700 24.5px/1 'Liberation Sans', sans-serif;color:#dedede;transform:scaleX(0.7905);transform-origin:0 20.82px;">Unassigned</div>
<div class="t" style="left:930.42px;top:306.04px;font:700 16.3px/1 'Liberation Sans', sans-serif;color:#ffffff;transform:scaleX(0.9766);transform-origin:0 13.86px;">165</div>
<div class="t" style="left:968.66px;top:306.04px;font:700 16.3px/1 'Liberation Sans', sans-serif;color:#ffffff;transform:scaleX(0.9422);transform-origin:0 13.86px;">179</div>
<div class="t" style="left:950.60px;top:350.04px;font:700 16.3px/1 'Liberation Sans', sans-serif;color:#ffffff;">1</div>
<div class="t" style="left:980.70px;top:350.04px;font:700 16.3px/1 'Liberation Sans', sans-serif;color:#ffffff;">1</div>
<div class="t" style="left:1483.00px;top:232.30px;font:700 20px/1 'Liberation Sans', sans-serif;color:#c5c7ca;transform:scaleX(0.9225);transform-origin:0 17.00px;">Total Incidents</div>
<div class="t" style="left:1651.60px;top:233.58px;font:700 18.5px/1 'Liberation Sans', sans-serif;color:#d2d3d5;transform:scaleX(0.8357);transform-origin:0 15.72px;">Aged</div>
<div class="t" style="left:1729.80px;top:233.58px;font:700 18.5px/1 'Liberation Sans', sans-serif;color:#d2d3d5;transform:scaleX(0.8698);transform-origin:0 15.72px;">Total Unresolved Incidents</div>
<div class="t" style="left:1515.48px;top:305.15px;font:italic 400 17px/1 'Liberation Sans', sans-serif;color:#a9abae;-webkit-text-stroke:0.3px #a9abae;">Apr 18</div>
<div class="t" style="left:1610.18px;top:305.15px;font:italic 400 17px/1 'Liberation Sans', sans-serif;color:#a9abae;-webkit-text-stroke:0.3px #a9abae;">Apr 23</div>
<div class="t" style="left:1705.48px;top:305.15px;font:italic 400 17px/1 'Liberation Sans', sans-serif;color:#a9abae;-webkit-text-stroke:0.3px #a9abae;">Apr 28</div>
<div class="t" style="left:1803.38px;top:305.15px;font:italic 400 17px/1 'Liberation Sans', sans-serif;color:#a9abae;-webkit-text-stroke:0.3px #a9abae;">May 3</div>
<div class="t" style="left:1898.48px;top:305.15px;font:italic 400 17px/1 'Liberation Sans', sans-serif;color:#a9abae;-webkit-text-stroke:0.3px #a9abae;">May 8</div>
<div class="t" style="left:1988.35px;top:305.15px;font:italic 400 17px/1 'Liberation Sans', sans-serif;color:#a9abae;-webkit-text-stroke:0.3px #a9abae;">May 13</div>
<div class="t" style="left:1457.51px;top:381.73px;font:400 19.5px/1 'Liberation Sans', sans-serif;color:#a9abae;-webkit-text-stroke:0.3px #a9abae;">300</div>
<div class="t" style="left:1457.51px;top:459.23px;font:400 19.5px/1 'Liberation Sans', sans-serif;color:#a9abae;-webkit-text-stroke:0.3px #a9abae;">150</div>
<div class="t" style="left:1479.20px;top:534.62px;font:400 19.5px/1 'Liberation Sans', sans-serif;color:#a9abae;-webkit-text-stroke:0.3px #a9abae;">0</div>
<div class="t" style="left:105.00px;top:658.98px;font:700 20.5px/1 'Liberation Sans', sans-serif;color:#c5c7ca;transform:scaleX(0.8846);transform-origin:0 17.43px;">Top Incidents (Top 10)</div>
<div class="t" style="left:81.40px;top:737.73px;font:700 17.5px/1 'Liberation Sans', sans-serif;color:#7f8489;letter-spacing:1.5px;transform:scaleX(0.8790);transform-origin:0 14.88px;">SEVERITY</div>
<div class="t" style="left:308.90px;top:737.73px;font:700 17.5px/1 'Liberation Sans', sans-serif;color:#7f8489;letter-spacing:1.5px;transform:scaleX(0.9033);transform-origin:0 14.88px;">DESCRIPTION</div>
<div class="t" style="left:658.40px;top:737.73px;font:700 17.5px/1 'Liberation Sans', sans-serif;color:#7f8489;letter-spacing:1.5px;transform:scaleX(0.8873);transform-origin:0 14.88px;">ALERTS BREAKDOWN</div>
<div class="t" style="left:1138.30px;top:658.98px;font:700 20.5px/1 'Liberation Sans', sans-serif;color:#c5c7ca;transform:scaleX(0.8764);transform-origin:0 17.43px;">Top Hosts (Top 10)</div>
<div class="t" style="left:1113.58px;top:737.73px;font:700 17.5px/1 'Liberation Sans', sans-serif;color:#7f8489;letter-spacing:1.5px;transform:scaleX(0.9235);transform-origin:0 14.88px;">HOST NAME</div>
<div class="t" style="left:1576.69px;top:737.73px;font:700 17.5px/1 'Liberation Sans', sans-serif;color:#7f8489;letter-spacing:1.5px;transform:scaleX(0.9126);transform-origin:0 14.88px;">INCIDENTS BREAKDOWN</div>
<div class="t" style="left:122.74px;top:797.90px;font:700 18px/1 'Liberation Sans', sans-serif;color:#ffffff;transform:scaleX(0.9580);transform-origin:0 15.30px;">High</div>
<div class="t" style="left:310.29px;top:798.08px;font:400 20.5px/1 'Liberation Sans', sans-serif;color:#c3c6ca;-webkit-text-stroke:0.3px #c3c6ca;transform:scaleX(0.9110);transform-origin:0 17.43px;">'Windows Executable (EXE)' along w...</div>
<div class="t" style="left:657.30px;top:793.30px;font:italic 700 22px/1 'Liberation Sans', sans-serif;color:#cacaca;">450</div>
<div class="t" style="left:122.74px;top:845.40px;font:700 18px/1 'Liberation Sans', sans-serif;color:#ffffff;transform:scaleX(0.9580);transform-origin:0 15.30px;">High</div>
<div class="t" style="left:310.27px;top:845.58px;font:400 20.5px/1 'Liberation Sans', sans-serif;color:#c3c6ca;-webkit-text-stroke:0.3px #c3c6ca;transform:scaleX(0.9297);transform-origin:0 17.43px;">'SSH User Authentication Brute For...</div>
<div class="t" style="left:657.30px;top:840.80px;font:italic 700 22px/1 'Liberation Sans', sans-serif;color:#cacaca;">282</div>
<div class="t" style="left:122.74px;top:892.90px;font:700 18px/1 'Liberation Sans', sans-serif;color:#ffffff;transform:scaleX(0.9580);transform-origin:0 15.30px;">High</div>
<div class="t" style="left:310.27px;top:893.08px;font:400 20.5px/1 'Liberation Sans', sans-serif;color:#c3c6ca;-webkit-text-stroke:0.3px #c3c6ca;transform:scaleX(0.9273);transform-origin:0 17.43px;">'Linear eMerge E3 Unauthenticated ...</div>
<div class="t" style="left:657.30px;top:888.30px;font:italic 700 22px/1 'Liberation Sans', sans-serif;color:#cacaca;">210</div>
<div class="t" style="left:122.74px;top:940.40px;font:700 18px/1 'Liberation Sans', sans-serif;color:#ffffff;transform:scaleX(0.9580);transform-origin:0 15.30px;">High</div>
<div class="t" style="left:310.31px;top:940.58px;font:400 20.5px/1 'Liberation Sans', sans-serif;color:#c3c6ca;-webkit-text-stroke:0.3px #c3c6ca;transform:scaleX(0.8915);transform-origin:0 17.43px;">'HTTP Unix Shell IFS Remote Code ...</div>
<div class="t" style="left:657.30px;top:935.80px;font:italic 700 22px/1 'Liberation Sans', sans-serif;color:#cacaca;">210</div>
<div class="t" style="left:122.74px;top:987.90px;font:700 18px/1 'Liberation Sans', sans-serif;color:#ffffff;transform:scaleX(0.9580);transform-origin:0 15.30px;">High</div>
<div class="t" style="left:310.27px;top:988.08px;font:400 20.5px/1 'Liberation Sans', sans-serif;color:#c3c6ca;-webkit-text-stroke:0.3px #c3c6ca;transform:scaleX(0.9273);transform-origin:0 17.43px;">'Linear eMerge E3 Unauthenticated ...</div>
<div class="t" style="left:656.30px;top:983.30px;font:italic 700 22px/1 'Liberation Sans', sans-serif;color:#cacaca;">197</div>
<div class="t" style="left:122.74px;top:1035.40px;font:700 18px/1 'Liberation Sans', sans-serif;color:#ffffff;transform:scaleX(0.9580);transform-origin:0 15.30px;">High</div>
<div class="t" style="left:310.25px;top:1035.58px;font:400 20.5px/1 'Liberation Sans', sans-serif;color:#c3c6ca;-webkit-text-stroke:0.3px #c3c6ca;transform:scaleX(0.9540);transform-origin:0 17.43px;">'Netis/Netcore Router Default Cred...</div>
<div class="t" style="left:656.30px;top:1030.80px;font:italic 700 22px/1 'Liberation Sans', sans-serif;color:#cacaca;">95</div>
<div class="t" style="left:122.74px;top:1082.90px;font:700 18px/1 'Liberation Sans', sans-serif;color:#ffffff;transform:scaleX(0.9580);transform-origin:0 15.30px;">High</div>
<div class="t" style="left:310.29px;top:1083.08px;font:400 20.5px/1 'Liberation Sans', sans-serif;color:#c3c6ca;-webkit-text-stroke:0.3px #c3c6ca;transform:scaleX(0.9123);transform-origin:0 17.43px;">'NJRat.Gen Command and Control T...</div>
<div class="t" style="left:657.30px;top:1078.30px;font:italic 700 22px/1 'Liberation Sans', sans-serif;color:#cacaca;">47</div>
<div class="t" style="left:122.74px;top:1130.40px;font:700 18px/1 'Liberation Sans', sans-serif;color:#ffffff;transform:scaleX(0.9580);transform-origin:0 15.30px;">High</div>
<div class="t" style="left:310.26px;top:1130.58px;font:400 20.5px/1 'Liberation Sans', sans-serif;color:#c3c6ca;-webkit-text-stroke:0.3px #c3c6ca;transform:scaleX(0.9399);transform-origin:0 17.43px;">'Dnsmasq Integer Underflow Vulner...</div>
<div class="t" style="left:657.30px;top:1125.80px;font:italic 700 22px/1 'Liberation Sans', sans-serif;color:#cacaca;">45</div>
<div class="t" style="left:122.74px;top:1177.90px;font:700 18px/1 'Liberation Sans', sans-serif;color:#ffffff;transform:scaleX(0.9580);transform-origin:0 15.30px;">High</div>
<div class="t" style="left:310.27px;top:1178.08px;font:400 20.5px/1 'Liberation Sans', sans-serif;color:#c3c6ca;-webkit-text-stroke:0.3px #c3c6ca;transform:scaleX(0.9297);transform-origin:0 17.43px;">'SSH User Authentication Brute For...</div>
<div class="t" style="left:656.30px;top:1173.30px;font:italic 700 22px/1 'Liberation Sans', sans-serif;color:#cacaca;">32</div>
<div class="t" style="left:1183.40px;top:797.58px;font:400 20.5px/1 'Liberation Sans', sans-serif;color:#c3c6ca;-webkit-text-stroke:0.3px #c3c6ca;">50429</div>
<div class="t" style="left:1575.50px;top:793.30px;font:italic 700 22px/1 'Liberation Sans', sans-serif;color:#cacaca;">3</div>
<div class="t" style="left:1180.40px;top:845.48px;font:400 20.5px/1 'Liberation Sans', sans-serif;color:#c3c6ca;-webkit-text-stroke:0.3px #c3c6ca;">00429</div>
<div class="t" style="left:1575.50px;top:840.80px;font:italic 700 22px/1 'Liberation Sans', sans-serif;color:#cacaca;">1</div>
<div class="t" style="left:1188.59px;top:892.88px;font:400 20.5px/1 'Liberation Sans', sans-serif;color:#c3c6ca;-webkit-text-stroke:0.3px #c3c6ca;">020912</div>
<div class="t" style="left:1574.50px;top:888.30px;font:italic 700 22px/1 'Liberation Sans', sans-serif;color:#cacaca;">76</div>
<div class="t" style="left:1191.60px;top:940.38px;font:400 20.5px/1 'Liberation Sans', sans-serif;color:#c3c6ca;-webkit-text-stroke:0.3px #c3c6ca;">00528</div>
<div class="t" style="left:1575.50px;top:935.80px;font:italic 700 22px/1 'Liberation Sans', sans-serif;color:#cacaca;">8</div>
<div class="t" style="left:1174.70px;top:987.88px;font:400 20.5px/1 'Liberation Sans', sans-serif;color:#c3c6ca;-webkit-text-stroke:0.3px #c3c6ca;">00429</div>
<div class="t" style="left:1574.50px;top:983.30px;font:italic 700 22px/1 'Liberation Sans', sans-serif;color:#cacaca;">7</div>
<div class="t" style="left:1180.10px;top:1035.38px;font:400 20.5px/1 'Liberation Sans', sans-serif;color:#c3c6ca;-webkit-text-stroke:0.3px #c3c6ca;">20630</div>
<div class="t" style="left:1575.50px;top:1030.80px;font:italic 700 22px/1 'Liberation Sans', sans-serif;color:#cacaca;">5</div>
<div class="t" style="left:1215.60px;top:1082.48px;font:400 20.5px/1 'Liberation Sans', sans-serif;color:#c3c6ca;-webkit-text-stroke:0.3px #c3c6ca;">20625</div>
<div class="t" style="left:1575.50px;top:1078.30px;font:italic 700 22px/1 'Liberation Sans', sans-serif;color:#cacaca;">5</div>
<div class="t" style="left:1187.20px;top:1129.78px;font:400 20.5px/1 'Liberation Sans', sans-serif;color:#c3c6ca;-webkit-text-stroke:0.3px #c3c6ca;">00429</div>
<div class="t" style="left:1575.50px;top:1125.80px;font:italic 700 22px/1 'Liberation Sans', sans-serif;color:#cacaca;">5</div>
<div class="t" style="left:1222.90px;top:1177.08px;font:400 20.5px/1 'Liberation Sans', sans-serif;color:#c3c6ca;-webkit-text-stroke:0.3px #c3c6ca;">20429</div>
<div class="t" style="left:1575.50px;top:1173.30px;font:italic 700 22px/1 'Liberation Sans', sans-serif;color:#cacaca;">5</div>
<div class="t" style="left:768.90px;top:793.30px;font:italic 400 22px/1 'Liberation Sans', sans-serif;color:#c2c2c2;-webkit-text-stroke:0.3px #c2c2c2;">251</div>
<div class="t" style="left:833.90px;top:793.30px;font:italic 400 22px/1 'Liberation Sans', sans-serif;color:#c2c2c2;-webkit-text-stroke:0.3px #c2c2c2;">199</div>
<div class="t" style="left:768.90px;top:840.80px;font:italic 400 22px/1 'Liberation Sans', sans-serif;color:#c2c2c2;-webkit-text-stroke:0.3px #c2c2c2;">211</div>
<div class="t" style="left:831.90px;top:840.80px;font:italic 400 22px/1 'Liberation Sans', sans-serif;color:#c2c2c2;-webkit-text-stroke:0.3px #c2c2c2;">71</div>
<div class="t" style="left:767.90px;top:888.30px;font:italic 400 22px/1 'Liberation Sans', sans-serif;color:#c2c2c2;-webkit-text-stroke:0.3px #c2c2c2;">161</div>
<div class="t" style="left:833.90px;top:888.30px;font:italic 400 22px/1 'Liberation Sans', sans-serif;color:#c2c2c2;-webkit-text-stroke:0.3px #c2c2c2;">49</div>
<div class="t" style="left:767.90px;top:935.80px;font:italic 400 22px/1 'Liberation Sans', sans-serif;color:#c2c2c2;-webkit-text-stroke:0.3px #c2c2c2;">148</div>
<div class="t" style="left:832.90px;top:935.80px;font:italic 400 22px/1 'Liberation Sans', sans-serif;color:#c2c2c2;-webkit-text-stroke:0.3px #c2c2c2;">62</div>
<div class="t" style="left:767.90px;top:983.30px;font:italic 400 22px/1 'Liberation Sans', sans-serif;color:#c2c2c2;-webkit-text-stroke:0.3px #c2c2c2;">148</div>
<div class="t" style="left:833.90px;top:983.30px;font:italic 400 22px/1 'Liberation Sans', sans-serif;color:#c2c2c2;-webkit-text-stroke:0.3px #c2c2c2;">46</div>
<div class="t" style="left:888.10px;top:983.30px;font:italic 400 22px/1 'Liberation Sans', sans-serif;color:#c2c2c2;-webkit-text-stroke:0.3px #c2c2c2;">3</div>
<div class="t" style="left:767.90px;top:1030.80px;font:italic 400 22px/1 'Liberation Sans', sans-serif;color:#c2c2c2;-webkit-text-stroke:0.3px #c2c2c2;">57</div>
<div class="t" style="left:822.10px;top:1030.80px;font:italic 400 22px/1 'Liberation Sans', sans-serif;color:#c2c2c2;-webkit-text-stroke:0.3px #c2c2c2;">38</div>
<div class="t" style="left:767.90px;top:1078.30px;font:italic 400 22px/1 'Liberation Sans', sans-serif;color:#c2c2c2;-webkit-text-stroke:0.3px #c2c2c2;">30</div>
<div class="t" style="left:822.10px;top:1078.30px;font:italic 400 22px/1 'Liberation Sans', sans-serif;color:#c2c2c2;-webkit-text-stroke:0.3px #c2c2c2;">17</div>
<div class="t" style="left:768.90px;top:1125.80px;font:italic 400 22px/1 'Liberation Sans', sans-serif;color:#c2c2c2;-webkit-text-stroke:0.3px #c2c2c2;">25</div>
<div class="t" style="left:823.10px;top:1125.80px;font:italic 400 22px/1 'Liberation Sans', sans-serif;color:#c2c2c2;-webkit-text-stroke:0.3px #c2c2c2;">20</div>
<div class="t" style="left:768.90px;top:1173.30px;font:italic 400 22px/1 'Liberation Sans', sans-serif;color:#c2c2c2;-webkit-text-stroke:0.3px #c2c2c2;">21</div>
<div class="t" style="left:822.10px;top:1173.30px;font:italic 400 22px/1 'Liberation Sans', sans-serif;color:#c2c2c2;-webkit-text-stroke:0.3px #c2c2c2;">11</div>
<div class="t" style="left:1687.70px;top:793.30px;font:italic 400 22px/1 'Liberation Sans', sans-serif;color:#c2c2c2;-webkit-text-stroke:0.3px #c2c2c2;">1</div>
<div class="t" style="left:1731.10px;top:793.30px;font:italic 400 22px/1 'Liberation Sans', sans-serif;color:#c2c2c2;-webkit-text-stroke:0.3px #c2c2c2;">2</div>
<div class="t" style="left:1687.70px;top:840.80px;font:italic 400 22px/1 'Liberation Sans', sans-serif;color:#c2c2c2;-webkit-text-stroke:0.3px #c2c2c2;">1</div>
<div class="t" style="left:1685.70px;top:888.30px;font:italic 400 22px/1 'Liberation Sans', sans-serif;color:#c2c2c2;-webkit-text-stroke:0.3px #c2c2c2;">76</div>
<div class="t" style="left:1687.70px;top:935.80px;font:italic 400 22px/1 'Liberation Sans', sans-serif;color:#c2c2c2;-webkit-text-stroke:0.3px #c2c2c2;">8</div>
<div class="t" style="left:1685.70px;top:983.30px;font:italic 400 22px/1 'Liberation Sans', sans-serif;color:#c2c2c2;-webkit-text-stroke:0.3px #c2c2c2;">7</div>
<div class="t" style="left:1687.70px;top:1030.80px;font:italic 400 22px/1 'Liberation Sans', sans-serif;color:#c2c2c2;-webkit-text-stroke:0.3px #c2c2c2;">5</div>
<div class="t" style="left:1687.70px;top:1078.30px;font:italic 400 22px/1 'Liberation Sans', sans-serif;color:#c2c2c2;-webkit-text-stroke:0.3px #c2c2c2;">5</div>
<div class="t" style="left:1687.70px;top:1125.80px;font:italic 400 22px/1 'Liberation Sans', sans-serif;color:#c2c2c2;-webkit-text-stroke:0.3px #c2c2c2;">5</div>
<div class="t" style="left:1687.70px;top:1173.30px;font:italic 400 22px/1 'Liberation Sans', sans-serif;color:#c2c2c2;-webkit-text-stroke:0.3px #c2c2c2;">5</div>
<svg width="2118" height="1272" viewBox="0 0 2118 1272"><path d="M1718,28.5 C1740,24 1790,24 1823,26.5" stroke="#000" stroke-width="29" stroke-linecap="round" fill="none"/><path d="M783,355 C810,354 850,358 889,359" stroke="#000" stroke-width="33" stroke-linecap="round" fill="none"/><path d="M1098,809.5 L1178,807" stroke="#000" stroke-width="27" stroke-linecap="round"/><path d="M1152,801 L1180,801" stroke="#000" stroke-width="21" stroke-linecap="round"/><path d="M1111,856 L1183,857" stroke="#000" stroke-width="29" stroke-linecap="round"/><path d="M1112,898 L1186,900" stroke="#000" stroke-width="24" stroke-linecap="round"/><path d="M1150,907 L1186,905" stroke="#000" stroke-width="19" stroke-linecap="round"/><path d="M1112,944 L1160,946" stroke="#000" stroke-width="25" stroke-linecap="round"/><path d="M1158,950 L1196,950" stroke="#000" stroke-width="27" stroke-linecap="round"/><path d="M1120,996 L1176,996" stroke="#000" stroke-width="21" stroke-linecap="round"/><path d="M1160,1002 L1176,1002" stroke="#000" stroke-width="18" stroke-linecap="round"/><path d="M1107,1044.8 L1177,1044.5" stroke="#000" stroke-width="26.5" stroke-linecap="round"/><path d="M1109,1089.5 L1217,1094" stroke="#000" stroke-width="25" stroke-linecap="round"/><path d="M1113,1138 L1175,1137" stroke="#000" stroke-width="28" stroke-linecap="round"/><path d="M1170,1140 L1189,1146" stroke="#000" stroke-width="22" stroke-linecap="round"/><path d="M1109,1189 L1222,1189.5" stroke="#000" stroke-width="27" stroke-linecap="round"/><circle cx="2026.5" cy="1168" r="21" fill="#111519"/><circle cx="2068" cy="1208" r="37" fill="#13171b"/><polygon fill="#ffffff" points="2038,1208.8 2058.2,1189.7 2078.4,1189.7 2078.4,1210.3 2058.6,1228.8 2057.4,1210"/><text x="2026.3" y="1179" font-family="Liberation Sans, sans-serif" font-size="23" fill="#d4d4d4" text-anchor="middle">4</text><path d="M517.5,90 L517.5,112.5 L522,108 L526,117.5 L530,116 L527.5,107.5 L534,107 Z" fill="#000" stroke="#d2d2d2" stroke-width="1.6" stroke-linejoin="round"/><rect x="0" y="1266.8" width="2118" height="2" fill="#3b3b3b" rx="0" /><rect x="1300" y="1268.8" width="818" height="3.2" fill="#393939" rx="0" /></svg>
</body></html>
